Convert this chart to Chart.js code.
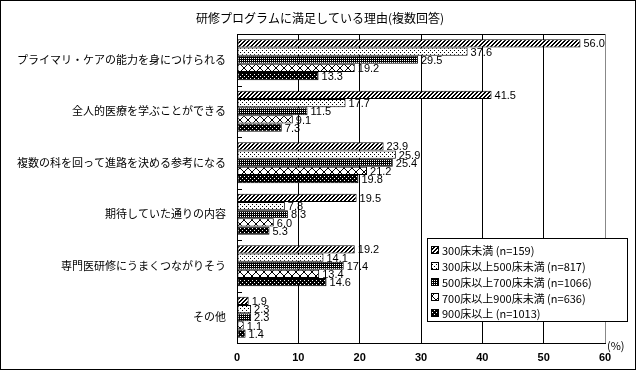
<!DOCTYPE html>
<html>
<head>
<meta charset="utf-8">
<script src="https://cdn.jsdelivr.net/npm/chart.js@4"></script>
<style>
  body { margin: 0; background: #fff; }
  #wrap { width: 639px; height: 372px; }
</style>
</head>
<body>
<div id="wrap"><canvas id="myChart" width="639" height="372"></canvas></div>
<script>
const jp = '"Noto Sans CJK JP", sans-serif'

const categories = [
  'プライマリ・ケアの能力を身につけられる',
  '全人的医療を学ぶことができる',
  '複数の科を回って進路を決める参考になる',
  '期待していた通りの内容',
  '専門医研修にうまくつながりそう',
  'その他'
]
const seriesNames = [
  '300床未満 (n=159)',
  '300床以上500床未満 (n=817)',
  '500床以上700床未満 (n=1066)',
  '700床以上900床未満 (n=636)',
  '900床以上 (n=1013)'
]
const under300 = [56.0, 41.5, 23.9, 19.5, 19.2, 1.9]
const from300to500 = [37.6, 17.7, 25.9, 7.8, 14.1, 2.3]
const from500to700 = [29.5, 11.5, 25.4, 8.3, 17.4, 2.3]
const from700to900 = [19.2, 9.1, 21.2, 6.0, 13.4, 1.1]
const over900 = [13.3, 7.3, 19.8, 5.3, 14.6, 1.4]
const xTicks = [0, 10, 20, 30, 40, 50, 60]

// small bitmap patterns like the old office charts
const makePattern = (size, bg, fg, test) => {
    const c = document.createElement('canvas')
    c.width = size; c.height = size
    const g = c.getContext('2d')
    g.fillStyle = bg
    g.fillRect(0, 0, size, size)
    g.fillStyle = fg
    for (let y = 0; y < size; y++) {
        for (let x = 0; x < size; x++) {
            if (test(x, y)) g.fillRect(x, y, 1, 1)
        }
    }
    return g.createPattern(c, 'repeat')
}
const ctx = document.getElementById('myChart').getContext('2d')
const patterns = [
    makePattern(4, '#fff', '#000', (x, y) => (x + y) % 4 < 2),
    makePattern(4, '#fff', '#000', (x, y) => (x === 0 && y === 0) || (x === 2 && y === 2)),
    makePattern(2, '#000', '#fff', (x, y) => x === 0 && y === 0),
    makePattern(8, '#fff', '#000', (x, y) => x === y || x === 7 - y),
    makePattern(4, '#000', '#fff', (x, y) => (x === 0 && y === 0) || (x === 2 && y === 2))
]
const seriesData = [under300, from300to500, from500to700, from700to900, over900]

const decorations = {
    id: 'decorations',
    afterDatasetsDraw(chart) {
        const c = chart.ctx
        const area = chart.chartArea
        c.save()
        // value labels
        c.fillStyle = '#000'
        c.font = '11px "Liberation Sans", sans-serif'
        c.textBaseline = 'middle'
        c.textAlign = 'left'
        chart.data.datasets.forEach((ds, i) => {
            chart.getDatasetMeta(i).data.forEach((bar, j) => {
                c.fillText(ds.data[j].toFixed(1), bar.x + 3, bar.y + 1)
            })
        })
        // top border + gray right border
        c.lineWidth = 1
        c.strokeStyle = '#000'
        c.beginPath()
        c.moveTo(area.left, Math.round(area.top) + 0.5)
        c.lineTo(area.right, Math.round(area.top) + 0.5)
        c.stroke()
        c.strokeStyle = '#888'
        c.beginPath()
        c.moveTo(Math.round(area.right) + 0.5, area.top)
        c.lineTo(Math.round(area.right) + 0.5, area.bottom)
        c.stroke()
        // little inward ticks between categories
        c.strokeStyle = '#000'
        const band = (area.bottom - area.top) / categories.length
        for (let k = 1; k < categories.length; k++) {
            const y = Math.round(area.top + band * k) + 0.5
            c.beginPath()
            c.moveTo(area.left, y)
            c.lineTo(area.left + 5, y)
            c.stroke()
        }
        // unit
        c.font = '11px ' + jp
        c.fillText('(%)', area.right + 2, area.bottom + 3)
        // title
        c.font = '12px ' + jp
        c.textAlign = 'center'
        c.fillText('研修プログラムに満足している理由(複数回答)', 320, 18)
        // legend box
        c.fillStyle = '#fff'
        c.fillRect(427, 238, 201, 84)
        c.strokeRect(427.5, 238.5, 200, 83)
        c.textAlign = 'left'
        c.font = '11px ' + jp
        seriesNames.forEach((name, i) => {
            const y = 250 + i * 15.8
            c.fillStyle = patterns[i]
            c.fillRect(431, Math.round(y) - 4, 8, 8)
            c.strokeRect(431.5, Math.round(y) - 3.5, 7, 7)
            c.fillStyle = '#000'
            c.fillText(name, 442, y + 1)
        })
        // outer frame
        c.strokeRect(0.5, 0.5, 635, 369)
        c.restore()
    }
}

const data = {
    labels: categories,
    datasets: seriesData.map((vals, i) => ({
        label: seriesNames[i],
        data: vals,
        backgroundColor: patterns[i],
        borderColor: '#000',
        borderWidth: 1,
        borderSkipped: false,
        categoryPercentage: 0.8,
        barPercentage: 1
    }))
}

const config = {
    type: 'bar',
    data: data,
    options: {
        indexAxis: 'y',
        responsive: false,
        animation: false,
        layout: { padding: { left: 0, top: 34, right: 34, bottom: 0 } },
        plugins: {
            legend: { display: false },
            tooltip: { enabled: false }
        },
        scales: {
            x: {
                min: 0,
                max: 60,
                afterBuildTicks: (s) => { s.ticks = xTicks.map(v => ({ value: v })) },
                afterFit: (s) => { s.height = 29 },
                grid: {
                    color: (c) => c.tick && c.tick.value === 60 ? '#888' : '#000',
                    drawTicks: false
                },
                border: { color: '#000' },
                ticks: {
                    color: '#000',
                    padding: 8,
                    font: { family: '"Liberation Sans", sans-serif', size: 11, weight: 'bold' }
                }
            },
            y: {
                afterFit: (s) => { s.width = 237 },
                grid: { drawOnChartArea: false, drawTicks: false },
                border: { color: '#000' },
                ticks: {
                    color: '#000',
                    padding: 11,
                    font: { family: jp, size: 11 }
                }
            }
        }
    },
    plugins: [decorations]
}

var myChart = new Chart(ctx, config)
</script>
</body>
</html>
